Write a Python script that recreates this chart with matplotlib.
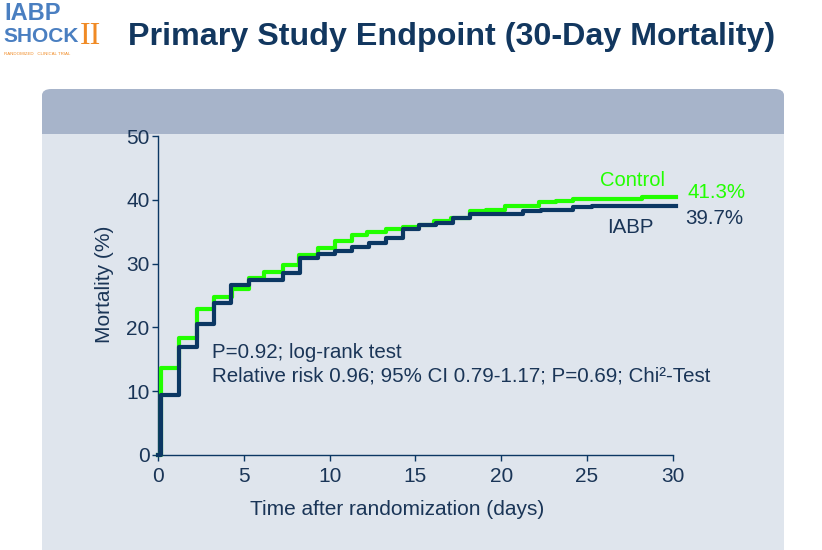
import matplotlib.pyplot as plt
from matplotlib.patches import FancyBboxPatch, Rectangle

plt.rcParams["font.family"] = ["Liberation Sans", "DejaVu Sans"]

NAVY = "#0b3763"
GREEN = "#22ff00"
TEXT = "#1a3557"

# step times (days) and cumulative mortality (%)
iabp_days = [0, 0.2, 1.25, 2.25, 3.25, 4.25, 5.3, 7.3, 8.3, 9.3, 10.3, 11.3, 12.3,
             13.3, 14.3, 15.2, 16.2, 17.2, 18.2, 21.3, 22.3, 24.2, 25.3, 30.2]
iabp_mort = [0, 9.4, 17.0, 20.6, 23.8, 26.6, 27.4, 28.5, 30.9, 31.5, 31.9, 32.6, 33.2,
             34.0, 35.4, 36.0, 36.4, 37.1, 37.7, 38.2, 38.4, 38.8, 39.1, 39.1]

control_days = [0, 0.2, 1.25, 2.25, 3.25, 4.3, 5.3, 6.2, 7.3, 8.2, 9.3, 10.3, 11.3,
                12.2, 13.3, 14.3, 15.2, 16.1, 17.1, 18.2, 19.1, 20.2, 22.2, 23.2,
                24.2, 28.2, 30.2]
control_mort = [0, 13.7, 18.4, 22.9, 24.7, 26.0, 27.7, 28.7, 29.8, 31.4, 32.5, 33.6, 34.5,
                34.9, 35.4, 35.7, 36.1, 36.7, 37.1, 38.2, 38.4, 39.0, 39.6, 39.8,
                40.1, 40.5, 40.5]

x_ticks = [0, 5, 10, 15, 20, 25, 30]
y_ticks = [0, 10, 20, 30, 40, 50]

fig = plt.figure(figsize=(8.22, 5.5), dpi=100)
fig.patch.set_facecolor("white")

# panel background with header band
W, H = 822, 550
fig.patches.append(FancyBboxPatch((42 / W, -0.05), (784 - 42) / W, (550 - 89) / H + 0.05,
                                  boxstyle="round,pad=0,rounding_size=0.012",
                                  transform=fig.transFigure, facecolor="#dfe5ed",
                                  edgecolor="none", zorder=-10))
fig.patches.append(FancyBboxPatch((42 / W, 1 - 134 / H), (784 - 42) / W, (134 - 89) / H,
                                  boxstyle="round,pad=0,rounding_size=0.012",
                                  transform=fig.transFigure, facecolor="#a7b4ca",
                                  edgecolor="none", zorder=-9))
fig.patches.append(Rectangle((42 / W, 1 - 134 / H), (784 - 42) / W, 0.02,
                             transform=fig.transFigure, facecolor="#a7b4ca",
                             edgecolor="none", zorder=-9))

# title and logo
fig.text(128 / W, 1 - 37 / H, "Primary Study Endpoint (30-Day Mortality)",
         fontsize=23.2, fontweight="bold", color="#12375f", va="center", ha="left")
fig.text(4 / W, 1 - 14 / H, "IABP", fontsize=17, fontweight="bold", color="#4a7fc1",
         va="center", ha="left")
fig.text(3 / W, 1 - 36 / H, "SHOCK", fontsize=15, fontweight="bold", color="#4a7fc1",
         va="center", ha="left")
fig.text(80 / W, 1 - 37 / H, "II", fontsize=23, family=["Liberation Serif"],
         color="#f08a24", va="center", ha="left")
fig.text(4 / W, 1 - 54 / H, "RANDOMIZED   CLINICAL TRIAL", fontsize=3.2,
         color="#f08a24", va="center", ha="left")

ax = fig.add_axes([158 / W, 1 - 455 / H, (672.7 - 158) / W, (455 - 136) / H])
ax.set_facecolor("none")

ax.step(control_days, control_mort, where="post", color=GREEN, linewidth=3,
        clip_on=False, zorder=3)
ax.step(iabp_days, iabp_mort, where="post", color=NAVY, linewidth=3,
        clip_on=False, zorder=4)

ax.set_xlim(0, 30)
ax.set_ylim(0, 50)
ax.set_xticks(x_ticks)
ax.set_yticks(y_ticks)
for s in ["top", "right"]:
    ax.spines[s].set_visible(False)
for s in ["left", "bottom"]:
    ax.spines[s].set_color(NAVY)
    ax.spines[s].set_linewidth(1.0)
ax.tick_params(colors=NAVY, labelcolor=TEXT, labelsize=15, length=4, width=1)
ax.tick_params(axis="x", pad=5)
ax.tick_params(axis="y", pad=2)

ax.set_xlabel("Time after randomization (days)", fontsize=15, color=TEXT)
ax.set_ylabel("Mortality (%)", fontsize=15, color=TEXT)
ax.xaxis.set_label_coords(0.465, -0.14)
ax.yaxis.set_label_coords(-0.086, 0.536)

ax.text(25.76, 43.1, "Control", fontsize=14.5, color=GREEN, ha="left", va="center")
ax.text(30.89, 41.2, "41.3%", fontsize=14.8, color=GREEN, ha="left", va="center")
ax.text(30.72, 37.0, "39.7%", fontsize=14.8, color=TEXT, ha="left", va="center")
ax.text(26.17, 35.6, "IABP", fontsize=14.8, color=TEXT, ha="left", va="center")

ax.text(3.15, 16.1, "P=0.92; log-rank test", fontsize=14.8, color=TEXT,
        ha="left", va="center")
ax.text(3.15, 12.4, "Relative risk 0.96; 95% CI 0.79-1.17; P=0.69; Chi²-Test",
        fontsize=14.8, color=TEXT, ha="left", va="center")

fig.savefig("out.png", dpi=100)
